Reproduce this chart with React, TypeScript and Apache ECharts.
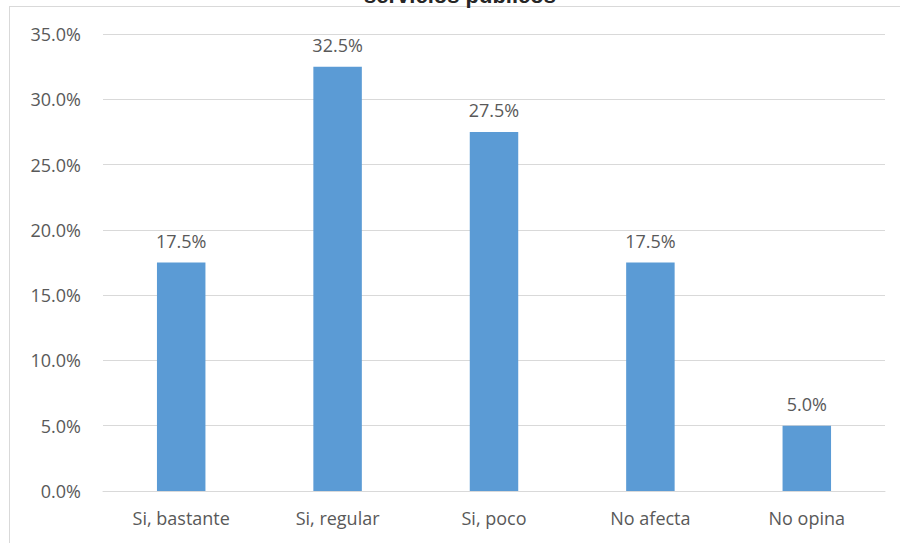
import React, { useEffect, useRef } from "react";
import * as echarts from "echarts";

const categories = ["Si, bastante", "Si, regular", "Si, poco", "No afecta", "No opina"];
const values = [17.5, 32.5, 27.5, 17.5, 5.0];
const titleText = "servicios publicos";

export default function App() {
  const ref = useRef<HTMLDivElement>(null);
  useEffect(() => {
    if (!ref.current) return;
    const chart = echarts.init(ref.current, undefined, { renderer: "svg" });
    const font = "'Open Sans', sans-serif";
    chart.setOption({
      animation: false,
      backgroundColor: "#ffffff",
      grid: { left: 103, right: 15, top: 34, bottom: 52, containLabel: false },
      xAxis: {
        type: "category",
        data: categories,
        axisLine: { lineStyle: { color: "#d9d9d9", width: 1 } },
        axisTick: { show: false },
        axisLabel: { color: "#595959", fontSize: 18, fontFamily: font, margin: 18 },
      },
      yAxis: {
        type: "value",
        min: 0,
        max: 35,
        interval: 5,
        axisLine: { show: false },
        axisTick: { show: false },
        splitLine: { lineStyle: { color: "#d9d9d9", width: 1 } },
        axisLabel: {
          color: "#595959",
          fontSize: 18,
          fontFamily: font,
          margin: 22,
          formatter: (v: number) => v.toFixed(1) + "%",
        },
      },
      series: [
        {
          type: "bar",
          data: values,
          barWidth: "31%",
          itemStyle: { color: "#5b9bd5" },
          label: {
            show: true,
            position: "top",
            distance: 13,
            color: "#595959",
            fontSize: 18,
            fontFamily: font,
            formatter: (p: any) => Number(p.value).toFixed(1) + "%",
          },
        },
      ],
      graphic: [
        {
          type: "line",
          shape: { x1: 9, y1: 6.5, x2: 900, y2: 6.5 },
          style: { stroke: "#d9d9d9", lineWidth: 1 },
        },
        {
          type: "line",
          shape: { x1: 9.5, y1: 6, x2: 9.5, y2: 543 },
          style: { stroke: "#d9d9d9", lineWidth: 1 },
        },
        {
          type: "text",
          x: 460,
          y: 6,
          style: {
            text: titleText,
            fill: "#262626",
            font: "bold 22px 'Liberation Sans', Arial, sans-serif",
            textAlign: "center",
            textVerticalAlign: "bottom",
          },
        },
      ],
    });
    return () => chart.dispose();
  }, []);
  return (
    <div
      ref={ref}
      style={{ position: "fixed", left: 0, top: 0, width: 900, height: 543 }}
    />
  );
}
